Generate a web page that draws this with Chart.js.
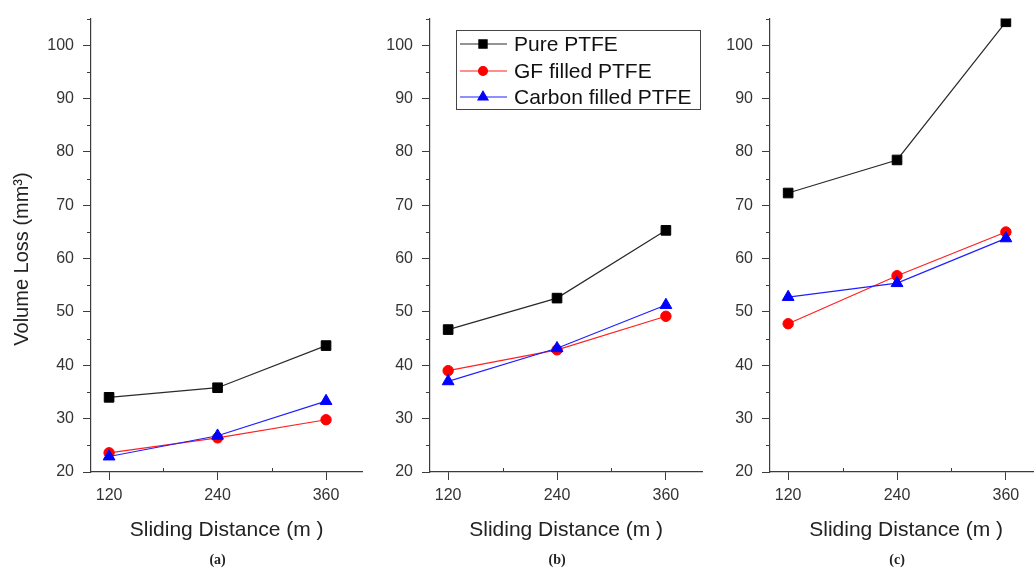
<!DOCTYPE html>
<html><head><meta charset="utf-8">
<script src="https://cdn.jsdelivr.net/npm/chart.js@4.4.0/dist/chart.umd.min.js"></script>
<style>
html,body{margin:0;padding:0;background:#fff;width:1034px;height:568px;overflow:hidden;position:relative}
.p{position:absolute;top:0}
canvas{display:block}
</style></head><body>
<div class="p" style="left:0px"><canvas id="ca" width="370" height="568" style="width:370px;height:568px"></canvas></div>
<div class="p" style="left:340px"><canvas id="cb" width="370" height="568" style="width:370px;height:568px"></canvas></div>
<div class="p" style="left:680px"><canvas id="cc" width="370" height="568" style="width:370px;height:568px"></canvas></div>
<script>
// ---- data ----
const distances = [120, 240, 360];
const seriesNames = ['Pure PTFE', 'GF filled PTFE', 'Carbon filled PTFE'];
const panelLabels = ['(a)', '(b)', '(c)'];
const pureA = [34.0, 35.8, 43.7];
const gfA = [23.6, 26.4, 29.8];
const carbonA = [22.9, 26.8, 33.3];
const pureB = [46.7, 52.6, 65.3];
const gfB = [39.0, 42.9, 49.2];
const carbonB = [37.0, 43.2, 51.3];
const pureC = [72.3, 78.5, 104.4];
const gfC = [47.8, 56.8, 65.0];
const carbonC = [52.8, 55.4, 63.8];
const xTicks = [120, 240, 360];
const xMinor = [180, 300];
const yTicks = [20, 30, 40, 50, 60, 70, 80, 90, 100];
const yMinor = [25, 35, 45, 55, 65, 75, 85, 95, 105];
const xRange = [100, 400];
const yRange = [20, 105];
const yTitle = 'Volume Loss (mm\u00B3)';
const xTitle = 'Sliding Distance (m )';

// ---- styles ----
const FONT = '"Liberation Sans", Arial, sans-serif';
const axisColor = '#3c3c3c';
const styles = [
  {line: '#2a2a2a', fill: '#000000', style: 'rect', r: 6.8, order: 2},
  {line: '#ff2020', fill: '#ff0000', style: 'circle', r: 5.2, order: 1},
  {line: '#2020ff', fill: '#0000ff', style: 'triangle', r: 6.8, order: 0}
];

function mkDatasets(arrs) {
  return arrs.map((vals, i) => ({
    label: seriesNames[i],
    data: distances.map((d, j) => ({x: d, y: vals[j]})),
    borderColor: styles[i].line,
    borderWidth: 1.2,
    pointStyle: styles[i].style,
    pointRadius: styles[i].r,
    pointBackgroundColor: styles[i].fill,
    pointBorderColor: styles[i].fill,
    pointBorderWidth: 1,
    tension: 0,
    order: styles[i].order
  }));
}

const minorPlugin = {
  id: 'minorTicks',
  afterDraw(chart, args, opts) {
    const {ctx, scales: {x, y}} = chart;
    ctx.save();
    ctx.strokeStyle = axisColor;
    ctx.lineWidth = 1;
    ctx.beginPath();
    yMinor.forEach(v => {
      const py = Math.round(y.getPixelForValue(v)) + 0.5;
      ctx.moveTo(x.left - 4, py); ctx.lineTo(x.left, py);
    });
    xMinor.forEach(v => {
      const px = Math.round(x.getPixelForValue(v)) + 0.5;
      ctx.moveTo(px, y.bottom); ctx.lineTo(px, y.bottom - 4);
    });
    ctx.stroke();
    ctx.font = 'bold 14px "Liberation Serif", serif';
    ctx.fillStyle = '#222';
    ctx.textAlign = 'center';
    ctx.textBaseline = 'middle';
    ctx.fillText(opts.label, x.getPixelForValue(xTicks[1]), 560);
    if (opts.yTitle) {
      ctx.save();
      ctx.translate(22, 259);
      ctx.rotate(-Math.PI / 2);
      ctx.font = '20px ' + FONT;
      ctx.fillStyle = '#222';
      ctx.fillText(yTitle, 0, 0);
      ctx.restore();
    }
    ctx.restore();
  }
};

const legendPlugin = {
  id: 'boxLegend',
  afterDraw(chart, args, opts) {
    if (!opts.show) return;
    const ctx = chart.ctx;
    ctx.save();
    ctx.strokeStyle = '#444';
    ctx.lineWidth = 1;
    ctx.strokeRect(116.5, 30.5, 244, 79);
    const rows = [44, 71, 97];
    chart.data.datasets.forEach((ds, i) => {
      const yy = rows[i];
      ctx.strokeStyle = ds.borderColor;
      ctx.lineWidth = 1.2;
      ctx.beginPath(); ctx.moveTo(120, yy); ctx.lineTo(167, yy); ctx.stroke();
      ctx.fillStyle = ds.pointBackgroundColor;
      ctx.strokeStyle = ds.pointBorderColor;
      Chart.helpers.drawPoint(ctx, {pointStyle: ds.pointStyle, radius: ds.pointRadius * 0.85, rotation: 0, borderWidth: 1}, 143, yy);
      ctx.fillStyle = '#111';
      ctx.font = '21px ' + FONT;
      ctx.textAlign = 'left';
      ctx.textBaseline = 'middle';
      ctx.fillText(ds.label, 174, yy + 1);
    });
    ctx.restore();
  }
};

function mkChart(id, arrs, idx, yAxisWidth) {
  return new Chart(document.getElementById(id), {
    type: 'line',
    data: {datasets: mkDatasets(arrs)},
    options: {
      responsive: false,
      animation: false,
      events: [],
      layout: {padding: {top: 16, right: 5.3, bottom: 0, left: 0}},
      plugins: {
        legend: {display: false},
        tooltip: {enabled: false},
        minorTicks: {label: panelLabels[idx], yTitle: idx === 0},
        boxLegend: {show: idx === 1}
      },
      scales: {
        x: {
          type: 'linear',
          min: xRange[0], max: xRange[1],
          afterBuildTicks: s => { s.ticks = xTicks.map(v => ({value: v})); },
          afterFit: s => { s.height = 96; },
          grid: {drawOnChartArea: false, drawTicks: true, tickLength: 8, tickColor: axisColor, tickWidth: 1},
          border: {display: true, color: axisColor, width: 1.2},
          ticks: {color: '#333', font: {family: FONT, size: 16}, padding: 6, maxRotation: 0, autoSkip: false},
          title: {display: true, text: xTitle, color: '#222', font: {family: FONT, size: 21}, padding: {top: 0, bottom: 25}}
        },
        y: {
          type: 'linear',
          min: yRange[0], max: yRange[1],
          afterBuildTicks: s => { s.ticks = yTicks.map(v => ({value: v})); },
          afterFit: s => { s.width = yAxisWidth; },
          grid: {drawOnChartArea: false, drawTicks: true, tickLength: 8, tickColor: axisColor, tickWidth: 1},
          border: {display: true, color: axisColor, width: 1.2},
          ticks: {color: '#333', font: {family: FONT, size: 16}, padding: 9, autoSkip: false},
          title: {display: false}
        }
      }
    },
    plugins: [minorPlugin, legendPlugin]
  });
}

mkChart('ca', [pureA, gfA, carbonA], 0, 91);
mkChart('cb', [pureB, gfB, carbonB], 1, 90);
mkChart('cc', [pureC, gfC, carbonC], 2, 90);
</script>
</body></html>
